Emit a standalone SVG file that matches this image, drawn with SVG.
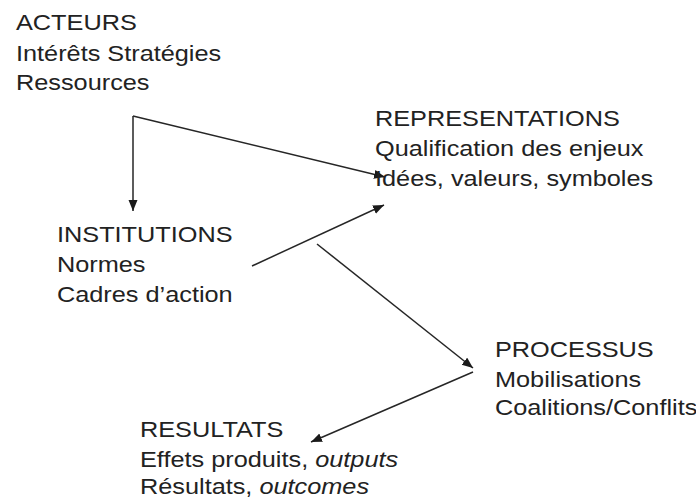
<svg xmlns="http://www.w3.org/2000/svg" width="696" height="501" viewBox="0 0 696 501">
<style>
.t{font-family:"Liberation Sans",Arial,sans-serif;font-size:22px;fill:#222}
.c{stroke:#262626;stroke-width:1.5;fill:none}
.i{font-style:italic}
</style>
<defs>
<marker id="ah" markerUnits="userSpaceOnUse" markerWidth="12" markerHeight="10" refX="11" refY="4.5" orient="auto">
<path d="M0,0 L11,4.5 L0,9 z" fill="#1a1a1a"/>
</marker>
</defs>
<rect width="696" height="501" fill="#fff"/>
<g id="connectors">
<path class="c" d="M133,116 L133,211" marker-end="url(#ah)"/>
<path class="c" d="M133,116 L385,177" marker-end="url(#ah)"/>
<path class="c" d="M252,266 L384,205" marker-end="url(#ah)"/>
<path class="c" d="M317,244 L473,368" marker-end="url(#ah)"/>
<path class="c" d="M473,372 L311,442" marker-end="url(#ah)"/>
</g>
<g id="acteurs">
<text class="t" transform="matrix(1.15 0 0 1 16 30)"><tspan x="0" y="0">ACTEURS</tspan><tspan x="0" y="31">Intérêts Stratégies</tspan><tspan x="0" y="60">Ressources</tspan></text>
</g>
<g id="representations">
<text class="t" transform="matrix(1.15 0 0 1 375 126)"><tspan x="0" y="0">REPRESENTATIONS</tspan><tspan x="0" y="30">Qualification des enjeux</tspan><tspan x="0" y="60">Idées, valeurs, symboles</tspan></text>
</g>
<g id="institutions">
<text class="t" transform="matrix(1.15 0 0 1 57 242)"><tspan x="0" y="0">INSTITUTIONS</tspan><tspan x="0" y="30">Normes</tspan><tspan x="0" y="60">Cadres d’action</tspan></text>
</g>
<g id="processus">
<text class="t" transform="matrix(1.15 0 0 1 495 357)"><tspan x="0" y="0">PROCESSUS</tspan><tspan x="0" y="30">Mobilisations</tspan><tspan x="0" y="58">Coalitions/Conflits</tspan></text>
</g>
<g id="resultats">
<text class="t" transform="matrix(1.15 0 0 1 140 437)"><tspan x="0" y="0">RESULTATS</tspan><tspan x="0" y="30">Effets produits, <tspan class="i">outputs</tspan></tspan><tspan x="0" y="57">Résultats, <tspan class="i">outcomes</tspan></tspan></text>
</g>
</svg>
